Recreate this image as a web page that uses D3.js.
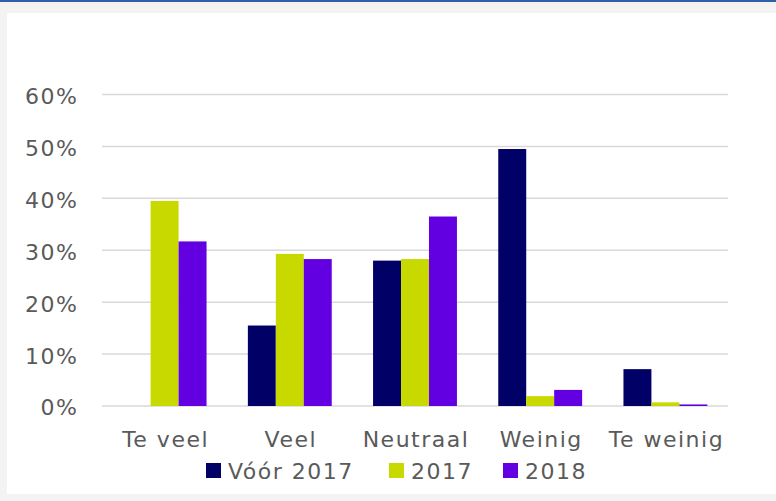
<!DOCTYPE html>
<html><head><meta charset="utf-8">
<script src="https://cdn.jsdelivr.net/npm/d3@7"></script>
<style>
html,body{margin:0;padding:0;background:#f3f3f3;}
svg{display:block;}
text{font-family:"DejaVu Sans","Century Gothic",sans-serif;fill:#5a5a5a;letter-spacing:1.5px;}
</style></head><body>
<svg id="c" width="776" height="501"></svg>
<script>
const categories = ["Te veel","Veel","Neutraal","Weinig","Te weinig"];
const seriesNames = ["Vóór 2017","2017","2018"];
const seriesColors = ["#000066","#c8d900","#6200e2"];
const voor2017 = [0, 15.5, 28.0, 49.5, 7.1];
const y2017 = [39.5, 29.3, 28.3, 1.9, 0.7];
const y2018 = [31.7, 28.3, 36.5, 3.1, 0.3];
const yTicks = [0,10,20,30,40,50,60];

const seriesValues = [voor2017, y2017, y2018];
const svg = d3.select("#c");
svg.append("rect").attr("x",0).attr("y",0).attr("width",776).attr("height",501).attr("fill","#f3f3f3");
svg.append("rect").attr("x",7).attr("y",13).attr("width",769).attr("height",481).attr("fill","#ffffff");
svg.append("rect").attr("x",0).attr("y",0).attr("width",776).attr("height",2).attr("fill","#2e5fa8");

const x0 = d3.scaleBand().domain(categories).range([102,728]).paddingInner(0.33).paddingOuter(0.165);
const x1 = d3.scaleBand().domain(seriesNames).range([0,x0.bandwidth()]);
const y = d3.scaleLinear().domain([0,60]).range([406,94.5]);

const grid = svg.append("g");
grid.selectAll("line").data(yTicks).join("line")
  .attr("x1",102).attr("x2",728)
  .attr("y1",d=>y(d)).attr("y2",d=>y(d))
  .attr("stroke","#d9d9d9").attr("stroke-width",1.5);

const yAxis = d3.axisLeft(y).tickValues(yTicks).tickFormat(d=>d+"%").tickSize(0).tickPadding(0);
const ya = svg.append("g").attr("transform","translate(78.5,1)").call(yAxis);
ya.select(".domain").remove();
ya.selectAll("text").attr("font-size",22).attr("fill","#5a5a5a").attr("font-family",null).attr("dy","0.36em");

const groups = svg.append("g").selectAll("g").data(categories).join("g")
  .attr("transform",d=>`translate(${x0(d)},0)`);
groups.selectAll("rect").data((c,i)=>seriesNames.map((s,j)=>({s,v:seriesValues[j][i],j})))
  .join("rect")
  .attr("x",d=>x1(d.s)).attr("width",x1.bandwidth())
  .attr("y",d=>y(d.v)).attr("height",d=>y(0)-y(d.v))
  .attr("fill",d=>seriesColors[d.j]);

const xAxis = d3.axisBottom(x0).tickSize(0).tickPadding(0);
const xa = svg.append("g").attr("transform","translate(1,430.5)").call(xAxis);
xa.select(".domain").remove();
xa.selectAll("text").attr("font-size",22).attr("fill","#5a5a5a").attr("font-family",null).attr("dy","0.74em");

const legendX = [206, 389, 503];
const lg = svg.append("g").selectAll("g").data(seriesNames).join("g")
  .attr("transform",(d,i)=>`translate(${legendX[i]},463)`);
lg.append("rect").attr("width",15).attr("height",15).attr("fill",(d,i)=>seriesColors[i]);
lg.append("text").attr("x",22).attr("y",16).attr("font-size",22).text(d=>d);
</script></body></html>
